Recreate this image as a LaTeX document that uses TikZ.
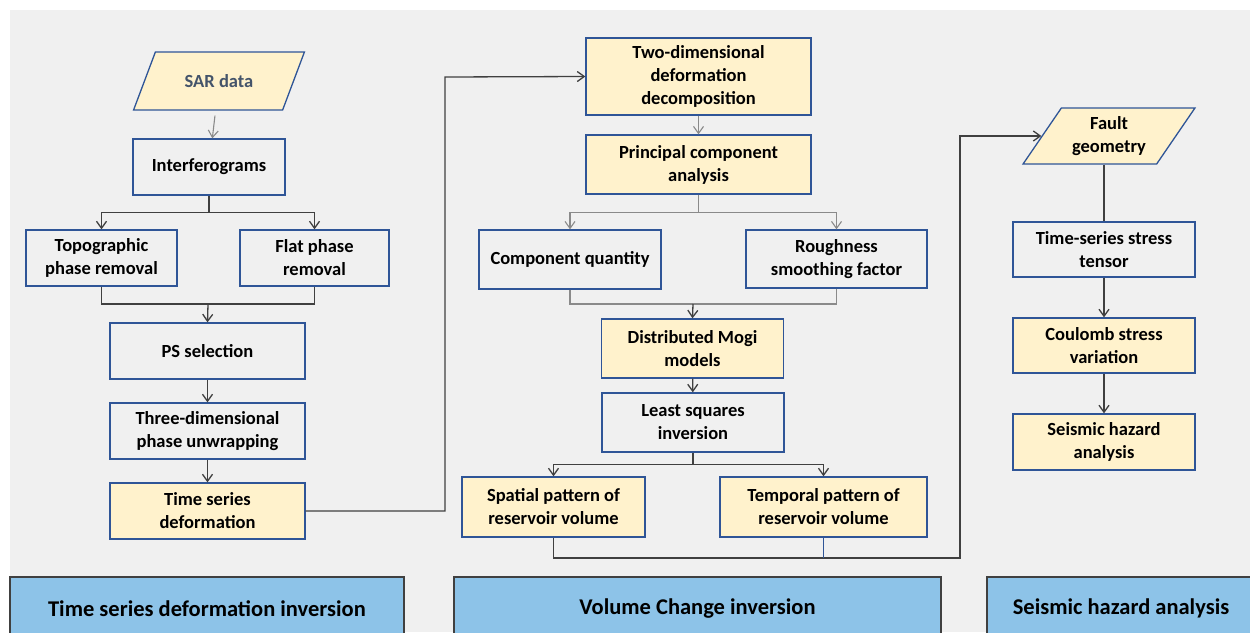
\documentclass[tikz,border=0pt]{standalone}
\usepackage{fontspec}
\setmainfont{Carlito}
\usetikzlibrary{shapes.geometric,arrows.meta}

\definecolor{bgGray}{HTML}{F0F0F0}
\definecolor{boxBlue}{HTML}{2F5597}
\definecolor{fillYel}{HTML}{FFF2CC}
\definecolor{barBlue}{HTML}{8DC3E8}
\definecolor{lineDark}{HTML}{404040}
\definecolor{lineGray}{HTML}{8A8A8A}
\definecolor{sarText}{HTML}{44546A}

\tikzset{
  proc/.style={draw=boxBlue, line width=1.3pt, align=center, inner sep=2pt,
    font=\bfseries\fontsize{18.5}{23}\selectfont},
  procY/.style={proc, fill=fillYel},
  dataio/.style={procY, trapezium, trapezium left angle=54, trapezium right angle=126,
    trapezium stretches=true},
  stage/.style={draw=lineDark, line width=1.4pt, fill=barBlue, minimum height=63,
    font=\bfseries\fontsize{22.5}{27}\selectfont},
  link/.style={draw=lineDark, line width=1.3pt},
  flow/.style={link, -{Straight Barb[length=7pt,width=10pt]}},
  flowG/.style={draw=lineGray, line width=1.1pt, -{Straight Barb[length=7pt,width=10pt]}},
  linkG/.style={draw=lineGray, line width=1.1pt}
}

\begin{document}
\begin{tikzpicture}[x=1pt, y=-1pt]
  \useasboundingbox (0,0) rectangle (1250,632);
  \fill[white] (0,0) rectangle (1250,632);
  \fill[bgGray] (10,10) rectangle (1250,632);

  % TIME SERIES DEFORMATION INVERSION
  \node[dataio, minimum width=172, minimum height=58, text=sarText] (sar) at (219,81) {SAR data};
  \node[proc, minimum width=152, minimum height=56] (interf) at (209,167) {Interferograms};
  \node[proc, minimum width=151, minimum height=56] (topo) at (101.5,258) {Topographic\\phase removal};
  \node[proc, minimum width=149, minimum height=56] (flat) at (314.5,258) {Flat phase\\removal};
  \node[proc, minimum width=195, minimum height=56] (pssel) at (207.5,351) {PS selection};
  \node[proc, minimum width=195, minimum height=56] (unwrap) at (207.5,431) {Three-dimensional\\phase unwrapping};
  \node[procY, minimum width=195, minimum height=56] (tsdef) at (207.5,511) {Time series\\deformation};

  \draw[flowG, shorten <=5pt] (sar) -- (interf);
  \draw[flow] (interf.south) -- ++(0,17) coordinate (b1) -| (topo.north);
  \draw[flow] (b1) -| (flat.north);
  \coordinate (m1) at (208,304);
  \draw[link] (topo.south) |- (m1) -| (flat.south);
  \draw[flow] (m1) -- (pssel.north);
  \draw[flow] (pssel) -- (unwrap);
  \draw[flow] (unwrap) -- (tsdef);

  % VOLUME CHANGE INVERSION
  \node[procY, minimum width=225, minimum height=77] (twod) at (698.5,76.5) {Two-dimensional\\deformation\\decomposition};
  \node[procY, minimum width=225, minimum height=59] (pca) at (698.5,164.5) {Principal component\\analysis};
  \node[proc, minimum width=182, minimum height=59] (compq) at (570,259.5) {Component quantity};
  \node[proc, minimum width=181, minimum height=58] (rough) at (836.5,259) {Roughness\\smoothing factor};
  \node[procY, minimum width=182, minimum height=59] (mogi) at (692.5,348.5) {Distributed Mogi\\models};
  \node[proc, minimum width=182, minimum height=59] (lsq) at (693,422.5) {Least squares\\inversion};
  \node[procY, minimum width=183, minimum height=60] (spatial) at (553.5,507) {Spatial pattern of\\reservoir volume};
  \node[procY, minimum width=207, minimum height=60] (temporal) at (823.5,507) {Temporal pattern of\\reservoir volume};

  \coordinate (c1) at (445,77);
  \draw[flow] (tsdef.east) -| (c1) -- (twod.west);
  \draw[flowG] (twod) -- (pca);
  \draw[flowG] (pca.south) -- ++(0,18) coordinate (b2) -| (compq.north);
  \draw[flowG] (b2) -| (rough.north);
  \coordinate (m2) at (693,304);
  \draw[linkG] (compq.south) |- (m2) -| (rough.south);
  \draw[flow] (m2) -- (mogi.north);
  \draw[flow] (mogi) -- (lsq);
  \draw[flow] (lsq.south) -- ++(0,12) coordinate (b3) -| (spatial.north);
  \draw[flow] (b3) -| (temporal.north);

  % SEISMIC HAZARD ANALYSIS
  \node[dataio, minimum width=172, minimum height=56] (fault) at (1109,136) {Fault\\geometry};
  \node[proc, minimum width=182, minimum height=55] (stress) at (1104,249.5) {Time-series stress\\tensor};
  \node[procY, minimum width=182, minimum height=55] (coulomb) at (1104,345.5) {Coulomb stress\\variation};
  \node[procY, minimum width=182, minimum height=56] (hazard) at (1104,442) {Seismic hazard\\analysis};

  \coordinate (c2) at (960,558);
  \draw[flow] (spatial.south) |- (c2) |- (fault.west);
  \draw[boxBlue, line width=0.8pt] (temporal.south) -- (temporal.south |- c2);
  \draw[link] (stress.north) -- (stress.north |- fault.south);
  \draw[flow] (stress) -- (coulomb);
  \draw[flow] (coulomb) -- (hazard);

  % STAGE BARS
  \node[stage, minimum width=394] (barTs) at (207,608.5) {Time series deformation inversion};
  \node[stage, minimum width=487] (barVol) at (697.5,608.5) {Volume Change inversion};
  \node[stage, minimum width=268] (barHaz) at (1121,608.5) {Seismic hazard analysis};
\end{tikzpicture}
\end{document}
